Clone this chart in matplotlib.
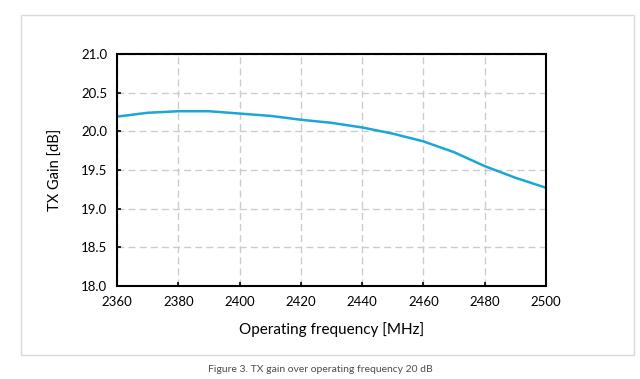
import matplotlib
matplotlib.use("Agg")
import matplotlib.pyplot as plt
from matplotlib.patches import Rectangle

plt.rcParams['font.family'] = ['Lato', 'DejaVu Sans']

freq = [2360, 2370, 2380, 2390, 2400, 2410, 2420, 2430, 2440, 2450, 2460, 2470, 2480, 2490, 2500]
gain = [20.19, 20.24, 20.26, 20.26, 20.23, 20.20, 20.15, 20.11, 20.05, 19.97, 19.87, 19.73, 19.55, 19.40, 19.27]
x_ticks = [2360, 2380, 2400, 2420, 2440, 2460, 2480, 2500]
y_ticks = [18.0, 18.5, 19.0, 19.5, 20.0, 20.5, 21.0]

fig = plt.figure(figsize=(6.4, 3.79), dpi=100)
fig.patches.append(Rectangle((21 / 640, 1 - 355 / 379), 613 / 640, 340 / 379,
                             transform=fig.transFigure, fill=False,
                             edgecolor="#d9d9d9", linewidth=1.0))

ax = fig.add_axes([117 / 640, 93 / 379, 429 / 640, 232 / 379])
ax.plot(freq, gain, color="#1aa7d6", linewidth=1.8)
ax.set_xlim(2360, 2500)
ax.set_ylim(18, 21)
ax.set_xticks(x_ticks)
ax.set_yticks(y_ticks)
ax.set_yticklabels(["%.1f" % v for v in y_ticks])
ax.grid(True, color="#cccccc", linestyle=(0, (5, 3)), linewidth=1.0)
ax.set_axisbelow(True)
for s in ax.spines.values():
    s.set_linewidth(1.5)
    s.set_color("black")
ax.tick_params(direction="in", length=3, width=1.2, labelsize=9.5, pad=7)
ax.set_xlabel("Operating frequency [MHz]", fontsize=11, labelpad=10)
ax.set_ylabel("TX Gain [dB]", fontsize=10.5, labelpad=13)

fig.text(320 / 640, 1 - 370 / 379, "Figure 3. TX gain over operating frequency 20 dB",
         ha="center", va="center", fontsize=7.5, color="#4d4d4d")

fig.savefig("out.png", dpi=100)
